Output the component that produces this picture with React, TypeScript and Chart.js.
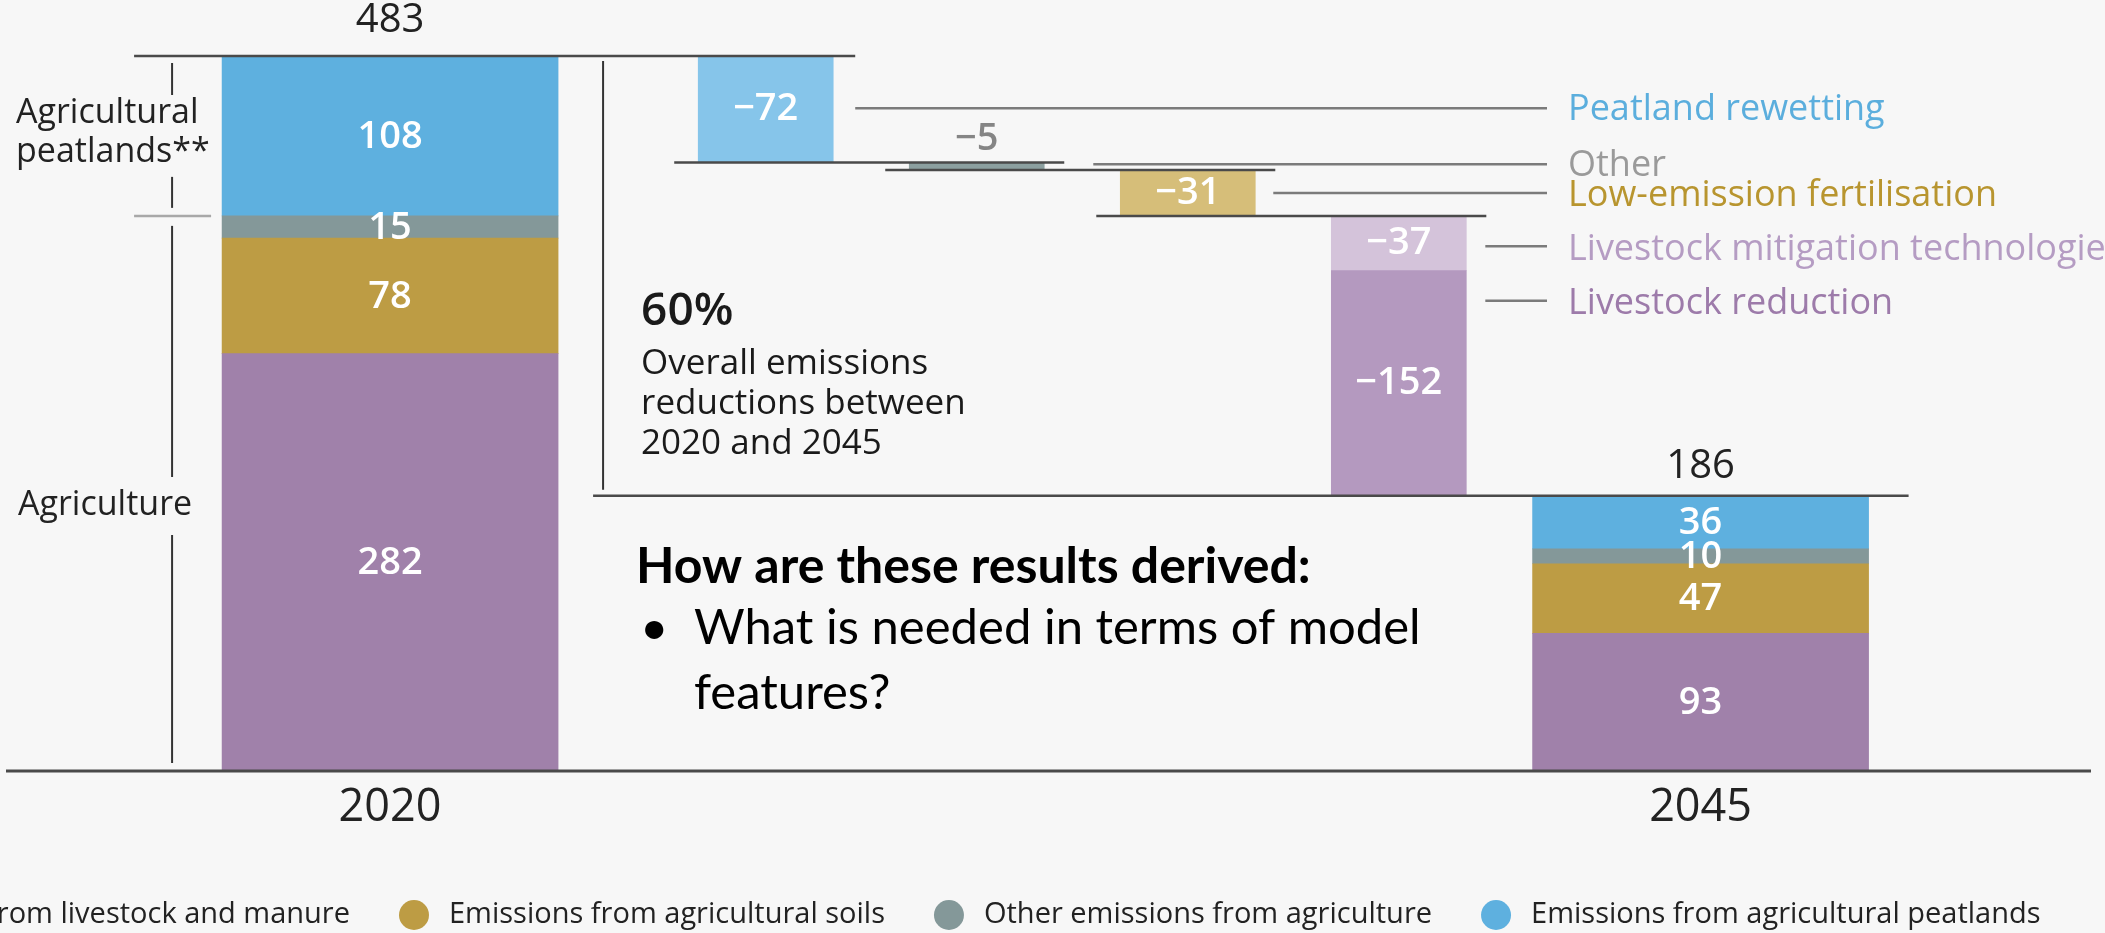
import { useEffect, useRef } from 'react';
import { Chart, registerables } from 'chart.js';

Chart.register(...registerables);

// ---- data ----
const YEARS = ['2020', '2045'];
const SOURCES = [
  'Emissions from livestock and manure',
  'Emissions from agricultural soils',
  'Other emissions from agriculture',
  'Emissions from agricultural peatlands',
];
const EMISSIONS_2020 = [282, 78, 15, 108];
const EMISSIONS_2045 = [93, 47, 10, 36];
const MEASURES = [
  'Peatland rewetting',
  'Other',
  'Low-emission fertilisation',
  'Livestock mitigation technologies',
  'Livestock reduction',
];
const MEASURE_CHANGES = [-72, -5, -31, -37, -152];
const MEASURE_COLUMN = [0, 1, 2, 3, 3];
const REDUCTION_SHARE = '60%';
const REDUCTION_NOTE = ['Overall emissions', 'reductions between', '2020 and 2045'];
const BRACKET_PEAT = ['Agricultural', 'peatlands**'];
const BRACKET_AGRI = 'Agriculture';
const SLIDE_TITLE = 'How are these results derived:';
const SLIDE_BULLET = ['What is needed in terms of model', 'features?'];

const YEAR_VALUES = [EMISSIONS_2020, EMISSIONS_2045];
const TOTALS = YEAR_VALUES.map((v) => v.reduce((a, b) => a + b, 0));

// ---- look ----
const SOURCE_COLORS = ['#A081AA', '#BD9C44', '#849899', '#5EB0DF'];
const MEASURE_COLORS = ['#86C5EA', '#8CA0A0', '#D6BE79', '#D4C3DA', '#B499BF'];
const MEASURE_TEXT_COLORS = ['#5BAEDD', '#9A9A9A', '#B8952F', '#B59CC3', '#9D7BAA'];
const FONT = '"Open Sans", "Noto Sans", sans-serif';
const SLIDE_FONT = 'Lato, "Open Sans", sans-serif';
const INK = '#222222';
const RULE = '#4a4a4a';
const LEADER = '#7b7b7b';

// column centres on the hidden linear x axis
const YEAR_X = [1.82, 8.03];
const STEP_X = [3.6, 4.6, 5.6, 6.6];
const X_MAX = 9.88;
const CALLOUT_X = 1568;

function buildDatasets() {
  const sets: any[] = SOURCES.map((name, i) => ({
    label: name,
    data: YEAR_VALUES.map((vals, k) => {
      const lo = vals.slice(0, i).reduce((a, b) => a + b, 0);
      return { x: YEAR_X[k], y: [lo, lo + vals[i]] };
    }),
    backgroundColor: SOURCE_COLORS[i],
    barThickness: 336,
  }));
  let run = TOTALS[0];
  const steps = MEASURE_CHANGES.map((c, j) => {
    const pt = { x: STEP_X[MEASURE_COLUMN[j]], y: [run + c, run] };
    run += c;
    return pt;
  });
  sets.push({
    label: 'Measures',
    data: steps,
    backgroundColor: MEASURE_COLORS,
    barThickness: 135,
  });
  return sets;
}

function line(ctx: CanvasRenderingContext2D, x1: number, y1: number, x2: number, y2: number, color: string, w: number) {
  ctx.beginPath();
  ctx.strokeStyle = color;
  ctx.lineWidth = w;
  ctx.moveTo(x1, y1);
  ctx.lineTo(x2, y2);
  ctx.stroke();
}

function geom(el: any) {
  const p = el.getProps(['x', 'y', 'base', 'width'], true);
  return {
    left: p.x - p.width / 2,
    right: p.x + p.width / 2,
    top: Math.min(p.y, p.base),
    bottom: Math.max(p.y, p.base),
    cx: p.x,
    cy: (p.y + p.base) / 2,
  };
}

const annotations = {
  id: 'waterfallAnnotations',
  afterDatasetsDraw(chart: any) {
    const { ctx, chartArea } = chart;
    const ys = chart.scales.y;
    const zero = ys.getPixelForValue(0);
    const metas = SOURCES.map((_, i) => chart.getDatasetMeta(i));
    const years = YEARS.map((_, k) => geom(metas[0].data[k]));
    const steps = chart.getDatasetMeta(SOURCES.length).data.map(geom);
    const topOf = (k: number) => ys.getPixelForValue(TOTALS[k]);

    ctx.save();
    ctx.textAlign = 'center';
    ctx.textBaseline = 'middle';

    // values inside the stacked columns
    ctx.font = `600 38px ${FONT}`;
    ctx.fillStyle = '#ffffff';
    metas.forEach((meta: any, i: number) =>
      meta.data.forEach((el: any, k: number) => {
        const g = geom(el);
        ctx.fillText(String(YEAR_VALUES[k][i]), g.cx, g.cy + 1);
      })
    );
    // values of the reduction steps
    steps.forEach((g: any, j: number) => {
      const txt = '\u2212' + Math.abs(MEASURE_CHANGES[j]);
      if (g.bottom - g.top < 14) {
        ctx.fillStyle = '#858585';
        ctx.fillText(txt, g.cx, g.top - 23);
      } else {
        ctx.fillStyle = '#ffffff';
        ctx.fillText(txt, g.cx, g.cy);
      }
    });

    // totals and year labels
    ctx.fillStyle = INK;
    ctx.font = `500 40px ${FONT}`;
    const totalLift = [35, 29];
    years.forEach((g: any, k: number) => ctx.fillText(String(TOTALS[k]), g.cx, topOf(k) - totalLift[k]));
    ctx.font = `45px ${FONT}`;
    years.forEach((g: any, k: number) => ctx.fillText(YEARS[k], g.cx, zero + 37));

    // baseline
    line(ctx, chartArea.left, zero, chartArea.right, zero, RULE, 3);

    // waterfall connectors
    let level = TOTALS[0];
    line(ctx, years[0].left - 88, topOf(0), steps[0].right + 22, topOf(0), RULE, 2.5);
    for (let j = 0; j < 3; j++) {
      level += MEASURE_CHANGES[j];
      const yy = ys.getPixelForValue(level);
      line(ctx, steps[j].left - 24, yy, steps[j + 1].right + 20, yy, RULE, 2.5);
    }
    const annX = years[0].right + 45;
    const endY = topOf(1);
    line(ctx, annX - 10, endY, years[1].right + 40, endY, RULE, 2.5);

    // callouts
    const leaderEnd = CALLOUT_X - 21;
    const callouts = [
      { from: steps[0].right + 22, y: steps[0].cy - 1 },
      { from: steps[2].left - 27, y: steps[1].cy - 2 },
      { from: steps[2].right + 18, y: steps[2].cy },
      { from: steps[3].right + 19, y: steps[3].cy + 3 },
      { from: steps[4].right + 19, y: steps[4].top + 30 },
    ];
    ctx.textAlign = 'left';
    ctx.font = `36px ${FONT}`;
    callouts.forEach((c, j) => {
      line(ctx, c.from, c.y, leaderEnd, c.y, LEADER, 2.5);
      ctx.fillStyle = MEASURE_TEXT_COLORS[j];
      ctx.fillText(MEASURES[j], CALLOUT_X, c.y + (j >= 2 ? 3 : 1));
    });

    // left bracket
    const bx = years[0].left - 50;
    const sepY = ys.getPixelForValue(TOTALS[0] - EMISSIONS_2020[3]);
    line(ctx, years[0].left - 88, sepY, years[0].left - 11, sepY, '#a8a8a8', 2.5);
    line(ctx, bx, topOf(0) + 7, bx, topOf(0) + 39, '#333', 2);
    line(ctx, bx, sepY - 39, bx, sepY - 8, '#333', 2);
    line(ctx, bx, sepY + 10, bx, 477, '#333', 2);
    line(ctx, bx, 535, bx, zero - 8, '#333', 2);
    ctx.fillStyle = INK;
    ctx.font = `34px ${FONT}`;
    ctx.fillText(BRACKET_PEAT[0], 16, 113);
    ctx.fillText(BRACKET_PEAT[1], 16, 152);
    ctx.fillText(BRACKET_AGRI, 18, 505);

    // overall reduction note
    line(ctx, annX, topOf(0) + 5, annX, endY - 6, '#333', 2);
    ctx.fillStyle = '#1a1a1a';
    ctx.font = `600 46px ${FONT}`;
    ctx.fillText(REDUCTION_SHARE, annX + 38, 312);
    ctx.font = `35px ${FONT}`;
    REDUCTION_NOTE.forEach((t, i) => ctx.fillText(t, annX + 38, 364 + i * 40));

    // slide text
    ctx.fillStyle = '#000000';
    ctx.font = `bold 50px ${SLIDE_FONT}`;
    ctx.fillText(SLIDE_TITLE, 636, 567);
    ctx.font = `49px ${SLIDE_FONT}`;
    ctx.fillText('\u2022', 640, 628);
    ctx.fillText(SLIDE_BULLET[0], 694, 628);
    ctx.fillText(SLIDE_BULLET[1], 694, 693);

    // legend row
    ctx.font = `29px ${FONT}`;
    const widths = SOURCES.map((s) => ctx.measureText(s).width);
    let cx = 414 - 64 - widths[0] - 35;
    SOURCES.forEach((s, i) => {
      ctx.beginPath();
      ctx.fillStyle = SOURCE_COLORS[i];
      ctx.arc(cx, 915, 15, 0, Math.PI * 2);
      ctx.fill();
      ctx.fillStyle = INK;
      ctx.fillText(s, cx + 35, 915);
      cx += 35 + widths[i] + 64;
    });

    ctx.restore();
  },
};

export default function App() {
  const ref = useRef<HTMLCanvasElement>(null);
  useEffect(() => {
    const chart = new Chart(ref.current as HTMLCanvasElement, {
      type: 'bar',
      data: { datasets: buildDatasets() },
      options: {
        responsive: false,
        animation: false,
        devicePixelRatio: 1,
        layout: { padding: { left: 6, right: 14, top: 56, bottom: 162 } },
        plugins: { legend: { display: false }, tooltip: { enabled: false } },
        datasets: { bar: { grouped: false, borderWidth: 0 } } as any,
        scales: {
          x: { type: 'linear', display: false, offset: false, min: 0, max: X_MAX },
          y: { display: false, min: 0, max: TOTALS[0] },
        },
      } as any,
      plugins: [annotations],
    });
    return () => chart.destroy();
  }, []);
  return (
    <div style={{ position: 'fixed', left: 0, top: 0, width: 2105, height: 933, background: '#f7f7f7' }}>
      <canvas ref={ref} width={2105} height={933} style={{ display: 'block' }} />
    </div>
  );
}
